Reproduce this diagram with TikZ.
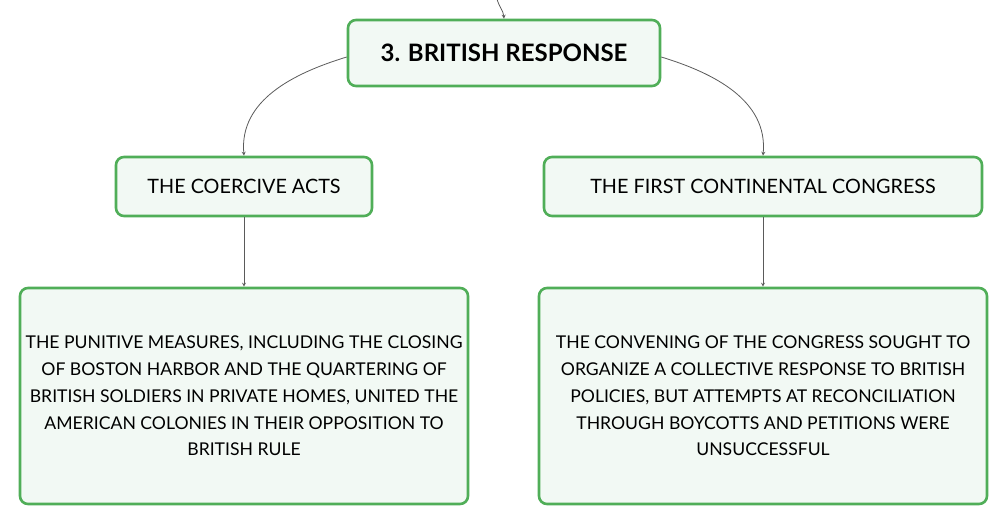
\documentclass[tikz,border=0pt]{standalone}
\usepackage{fontspec}
\setmainfont{Lato}
\usepackage{tikz}
\usetikzlibrary{arrows,%
                topaths}

\definecolor{boxgreen}{RGB}{80,174,88}
\definecolor{boxfill}{RGB}{242,249,244}
\definecolor{linkgray}{RGB}{90,90,90}

\begin{document}
\begin{tikzpicture}[x=1pt,y=-1pt]
		\tikzstyle{BoxStyle}=[draw=boxgreen,fill=boxfill,line width=2.6pt,rounded corners=8pt,align=center,inner sep=0pt]
		\tikzstyle{EdgeStyle}=[draw=linkgray,line width=0.8pt,-stealth,shorten >=0pt]
		\useasboundingbox (0,0) rectangle (1008,526);
		% title and the two branches
		\node[BoxStyle,minimum width=312pt,minimum height=66pt,font=\fontsize{24}{28}\selectfont\bfseries] (title) at (504,53) {3. BRITISH RESPONSE};
		\node[BoxStyle,minimum width=256pt,minimum height=59pt,font=\fontsize{19.8}{24}\selectfont] (coercive) at (244,186.5) {THE COERCIVE ACTS};
		\node[BoxStyle,minimum width=438pt,minimum height=59pt,font=\fontsize{19.8}{24}\selectfont] (congress) at (763,186.5) {THE FIRST CONTINENTAL CONGRESS};
		% details
		\node[BoxStyle,minimum width=448pt,minimum height=216pt,font=\fontsize{17.6}{26.8}\selectfont] (punitive) at (244,396) {THE PUNITIVE MEASURES, INCLUDING THE CLOSING\\OF BOSTON HARBOR AND THE QUARTERING OF\\BRITISH SOLDIERS IN PRIVATE HOMES, UNITED THE\\AMERICAN COLONIES IN THEIR OPPOSITION TO\\BRITISH RULE};
		\node[BoxStyle,minimum width=448pt,minimum height=216pt,font=\fontsize{17.6}{26.8}\selectfont] (convening) at (763,396) {THE CONVENING OF THE CONGRESS SOUGHT TO\\ORGANIZE A COLLECTIVE RESPONSE TO BRITISH\\POLICIES, BUT ATTEMPTS AT RECONCILIATION\\THROUGH BOYCOTTS AND PETITIONS WERE\\UNSUCCESSFUL};
		\coordinate (parent) at (497,-1);
		\draw[EdgeStyle] (parent) to[out=-75,in=95] (title.north);
		\draw[EdgeStyle] (title.west) ++(0,4) coordinate (tw) (tw) to[out=197,in=95] (coercive.north);
		\draw[EdgeStyle] (title.east) ++(0,4) coordinate (te) (te) to[out=-17,in=85] (congress.north);
		\draw[EdgeStyle] (coercive) -- (punitive);
		\draw[EdgeStyle] (congress) -- (convening);
	\end{tikzpicture}
\end{document}
